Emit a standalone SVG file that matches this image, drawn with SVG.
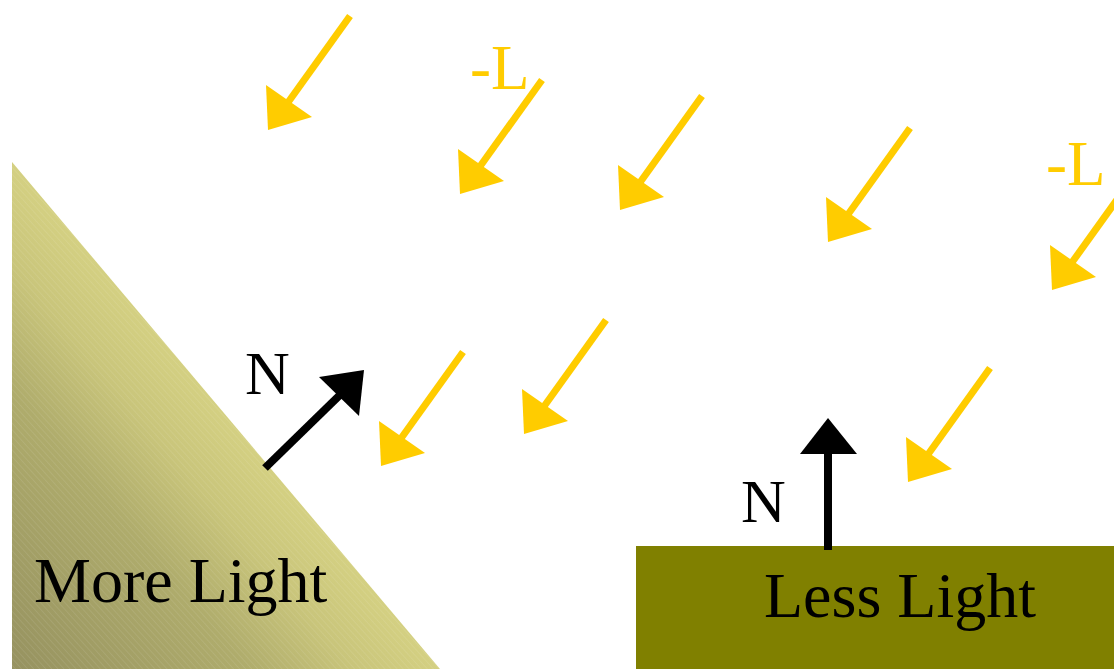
<svg xmlns="http://www.w3.org/2000/svg" width="1114" height="669" viewBox="0 0 1114 669">
  <style>
    .lbl { font-family: "Liberation Serif", "Times New Roman", serif; fill: #000; }
    .yl { font-family: "Liberation Serif", "Times New Roman", serif; fill: #FFCC00; font-size: 63px; }
    .yshaft { stroke: #FFCC00; stroke-width: 7; fill: none; }
    .yhead { fill: #FFCC00; }
    .bshaft { stroke: #000; stroke-width: 8; fill: none; }
  </style>
  <defs>
    <linearGradient id="slopeGrad" gradientUnits="userSpaceOnUse" x1="12" y1="669" x2="262" y2="458">
      <stop offset="0" stop-color="#969260"/>
      <stop offset="0.55" stop-color="#afac6c"/>
      <stop offset="0.8" stop-color="#c9c57b"/>
      <stop offset="1" stop-color="#d4d082"/>
    </linearGradient>
    <pattern id="hatch" patternUnits="userSpaceOnUse" width="4.5" height="5" patternTransform="rotate(-42)">
      <line x1="0" y1="0" x2="0" y2="5" stroke="#ffffff" stroke-opacity="0.2" stroke-width="0.8"/>
    </pattern>
    <g id="yarrow">
      <line class="yshaft" x1="82" y1="-114" x2="16" y2="-22"/>
      <polygon class="yhead" points="0,0 -2,-45 44,-13"/>
    </g>
  </defs>
  <rect width="1114" height="669" fill="#ffffff"/>

  <g id="slope">
    <polygon points="12,162 12,669 440,669" fill="url(#slopeGrad)"/>
    <polygon points="12,162 12,669 440,669" fill="url(#hatch)"/>
    <text class="lbl" x="34" y="602" font-size="64">More Light</text>
  </g>

  <g id="flat">
    <rect x="636" y="546" width="478" height="123" fill="#808000"/>
    <text class="lbl" x="764" y="617" font-size="64">Less Light</text>
  </g>

  <g id="labels">
    <text class="yl" x="470" y="89">-L</text>
    <text class="yl" x="1046" y="185">-L</text>
    <text class="lbl" x="245" y="394" font-size="62">N</text>
    <text class="lbl" x="741" y="522" font-size="62">N</text>
  </g>

  <g id="connectors">
    <use href="#yarrow" transform="translate(268,130)"/>
    <use href="#yarrow" transform="translate(460,194)"/>
    <use href="#yarrow" transform="translate(620,210)"/>
    <use href="#yarrow" transform="translate(828,242)"/>
    <use href="#yarrow" transform="translate(1052,290)"/>
    <use href="#yarrow" transform="translate(381,466)"/>
    <use href="#yarrow" transform="translate(524,434)"/>
    <use href="#yarrow" transform="translate(908,482)"/>
    <g id="normal-slope">
      <line class="bshaft" x1="265" y1="468" x2="343" y2="392"/>
      <polygon points="364,370 319,377 359,416" fill="#000"/>
    </g>
    <g id="normal-flat">
      <line class="bshaft" x1="828" y1="550" x2="828" y2="450"/>
      <polygon points="828,418 800,454 857,454" fill="#000"/>
    </g>
  </g>
</svg>
